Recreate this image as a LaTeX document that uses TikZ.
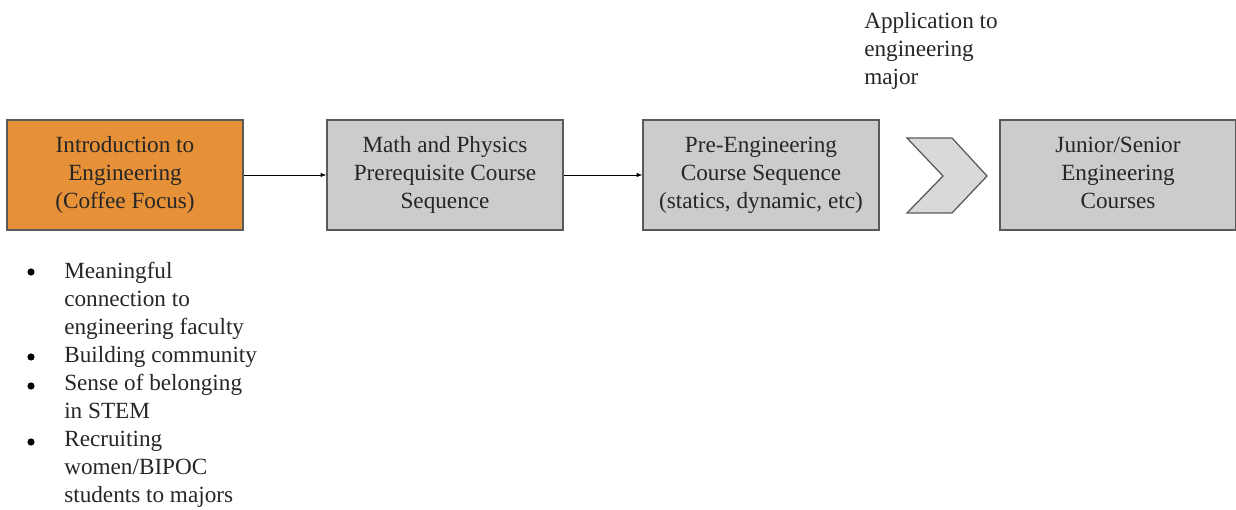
\documentclass[tikz,border=0pt]{standalone}
\usepackage{fontspec}
\setmainfont{Liberation Serif}
\usetikzlibrary{arrows.meta}
\definecolor{introorange}{HTML}{E69138}
\definecolor{boxgray}{HTML}{CCCCCC}
\definecolor{chevgray}{HTML}{D9D9D9}
\definecolor{edgegray}{HTML}{5A5A5A}
\definecolor{txtgray}{HTML}{262626}
\tikzset{
  coursebox/.style={draw=edgegray,line width=0.9pt,fill=boxgray,minimum width=5.9cm,minimum height=2.75cm,align=center,text=txtgray,text depth=0.12cm},
  plaintext/.style={align=left,inner sep=0pt,text=txtgray},
  flowarrow/.style={-{Latex[length=4pt,width=3pt]},line width=0.5pt}
}
\begin{document}
\begin{tikzpicture}[x=0.025cm,y=-0.025cm,font=\fontsize{16.5}{19.9}\selectfont]
					\useasboundingbox (0,0) rectangle (1236,510);
					% course boxes
					\node[coursebox,fill=introorange] (intro) at (125,175) {Introduction to\\Engineering\\(Coffee Focus)};
					\node[coursebox] (mathphys) at (445,175) {Math and Physics\\Prerequisite Course\\Sequence};
					\node[coursebox] (preeng) at (761,175) {Pre-Engineering\\Course Sequence\\(statics, dynamic, etc)};
					\node[coursebox] (senior) at (1118,175) {Junior/Senior\\Engineering\\Courses};
					\draw[flowarrow] (intro.east) -- (mathphys.west);
					\draw[flowarrow] (mathphys.east) -- (preeng.west);
					% application chevron
					\draw[draw=edgegray,line width=0.9pt,fill=chevgray] (907,138) -- (952,138) -- (987,176) -- (952,213) -- (907,213) -- (943,176) -- cycle;
					\node[plaintext,anchor=north west] (apply) at (864,12) {Application to\\engineering\\major};
					% outcomes of the intro course
					\node[plaintext,anchor=north west] (outcomes) at (64,262) {Meaningful\\connection to\\engineering faculty\\Building community\\Sense of belonging\\in STEM\\Recruiting\\women/BIPOC\\students to majors};
					\foreach \y in {272,357,386,442}
						\fill[black] (31,\y) circle (0.09cm);
\end{tikzpicture}
\end{document}
